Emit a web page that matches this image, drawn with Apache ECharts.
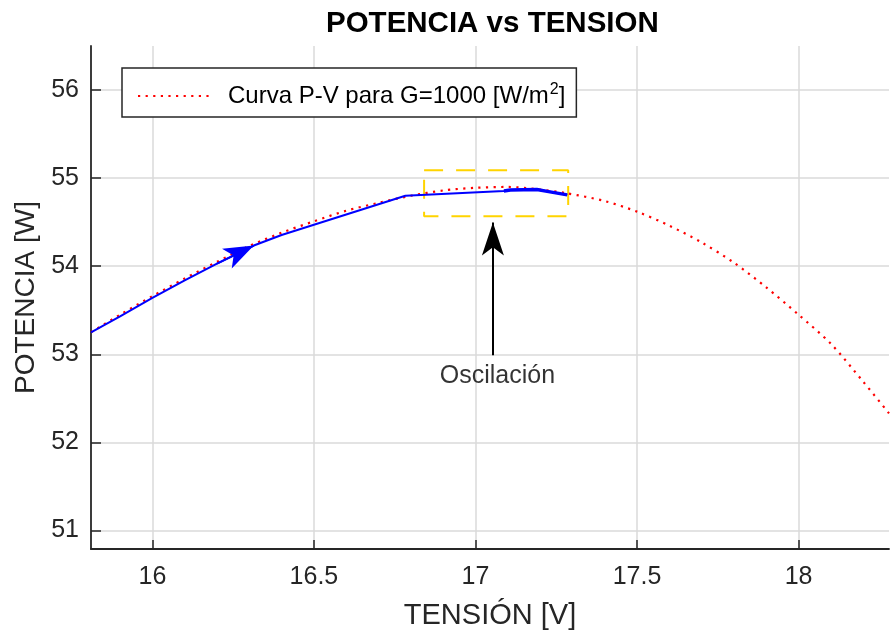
<!DOCTYPE html>
<html><head><meta charset="utf-8">
<script src="https://cdn.jsdelivr.net/npm/echarts@6/dist/echarts.min.js"></script>
<style>html,body{margin:0;padding:0;background:#fff}#c{width:890px;height:637px}</style>
</head><body><div id="c"></div>
<script>
// Curva P-V (red dotted)
const pvV = [15.81, 15.90, 16.00, 16.10, 16.20, 16.30, 16.40, 16.50, 16.60, 16.70, 16.80, 16.90, 17.00, 17.10, 17.20, 17.28, 17.40, 17.50, 17.60, 17.70, 17.80, 17.90, 18.00, 18.10, 18.20, 18.28];
const pvP = [53.25, 53.45, 53.66, 53.86, 54.05, 54.23, 54.38, 54.51, 54.63, 54.72, 54.80, 54.86, 54.89, 54.90, 54.87, 54.83, 54.74, 54.62, 54.46, 54.27, 54.04, 53.76, 53.45, 53.12, 52.69, 52.33];
// MPPT trajectory (blue)
const trV = [15.81, 15.90, 16.00, 16.10, 16.20, 16.314, 16.40, 16.783, 17.088, 17.108, 17.19, 17.222, 17.253, 17.284];
const trP = [53.25, 53.43, 53.64, 53.84, 54.03, 54.235, 54.355, 54.80, 54.855, 54.865, 54.87, 54.85, 54.83, 54.81];
// oscillation portion (thicker blue)
const oscV = [17.088, 17.108, 17.19, 17.222, 17.253, 17.284];
const oscP = [54.855, 54.865, 54.87, 54.85, 54.83, 54.81];
// direction arrow on trajectory: [start, tip]
const dirArrowV = [16.20, 16.314];
const dirArrowP = [54.03, 54.235];
// yellow dashed box
const boxV = [16.841, 17.287];
const boxP = [54.566, 55.09];
// black annotation arrow: [tail, tip]
const annArrowV = 17.054;
const annArrowP = [52.99, 54.495];
const annText = 'Oscilación';
const annTextPos = [17.068, 52.75];
const xTicks = [16, 16.5, 17, 17.5, 18];
const yTicks = [51, 52, 53, 54, 55, 56];
const legendName = 'Curva P-V para G=1000 [W/m2]';

const zip = (a, b) => a.map((v, i) => [v, b[i]]);
const boxData = [[boxV[0], boxP[1]], [boxV[1], boxP[1]], [boxV[1], boxP[0]], [boxV[0], boxP[0]], [boxV[0], boxP[1]]];
const FONT = '"Liberation Sans", Arial, Helvetica, sans-serif';
const TXT = '#262626';

const chart = echarts.init(document.getElementById('c'), null, {renderer: 'canvas'});
chart.setOption({
  animation: false,
  backgroundColor: '#fff',
  textStyle: {fontFamily: FONT},
  title: {
    text: 'POTENCIA vs TENSION', left: 326, top: 9, padding: 0,
    textStyle: {fontFamily: FONT, fontWeight: 'bold', fontSize: 29.5, color: '#000'}
  },
  legend: {
    data: [legendName], left: 122, top: 68, orient: 'vertical',
    backgroundColor: '#fff', borderColor: TXT, borderWidth: 1.5, borderRadius: 0,
    padding: [14, 11, 7, 15], itemWidth: 75, itemHeight: 14,
    itemStyle: {opacity: 0},
    formatter: () => '{a|Curva P-V para G=1000 [W/m}{s|2}{a|]}',
    textStyle: {
      padding: [0, 0, 0, 10],
      rich: {
        a: {fontFamily: FONT, fontSize: 24, color: '#000', lineHeight: 28},
        s: {fontFamily: FONT, fontSize: 16, color: '#000', padding: [0, 0, 12, 1], lineHeight: 28}
      }
    }
  },
  grid: {left: 91, right: 1, top: 46, bottom: 88, containLabel: false},
  xAxis: {
    type: 'value', min: 15.81, max: 18.28,
    name: 'TENSIÓN [V]', nameLocation: 'middle', nameGap: 52,
    nameTextStyle: {fontFamily: FONT, fontSize: 29, color: TXT},
    axisLine: {onZero: false, lineStyle: {color: TXT, width: 1.8}},
    axisTick: {inside: true, length: 9, customValues: xTicks, lineStyle: {color: TXT, width: 1.5}},
    axisLabel: {customValues: xTicks, fontFamily: FONT, fontSize: 25, color: TXT, margin: 16},
    splitLine: {show: true, lineStyle: {color: '#dadada', width: 1.5}}
  },
  yAxis: {
    type: 'value', min: 50.79, max: 56.5,
    name: 'POTENCIA [W]', nameLocation: 'middle', nameGap: 49,
    nameTextStyle: {fontFamily: FONT, fontSize: 28, color: TXT},
    axisLine: {onZero: false, lineStyle: {color: TXT, width: 1.8}},
    axisTick: {inside: true, length: 10, customValues: yTicks, lineStyle: {color: TXT, width: 1.5}},
    axisLabel: {customValues: yTicks, fontFamily: FONT, fontSize: 25, color: TXT, margin: 12},
    splitLine: {show: true, lineStyle: {color: '#dadada', width: 1.5}}
  },
  series: [
    {
      name: legendName, type: 'line', data: zip(pvV, pvP), symbol: 'none', smooth: 0.3,
      lineStyle: {color: '#ff0000', width: 2.2, type: [2.2, 5.4]}, itemStyle: {color: '#ff0000'}, z: 3
    },
    {
      name: 'mppt', type: 'line', data: zip(trV, trP), symbol: 'none',
      lineStyle: {color: '#0000ff', width: 2}, itemStyle: {color: '#0000ff'}, z: 4,
      markLine: {
        silent: true, symbol: ['none', 'arrow'], symbolSize: [16.5, 30],
        lineStyle: {color: '#0000ff', width: 2, type: 'solid'}, label: {show: false},
        data: [[{coord: [dirArrowV[0], dirArrowP[0]]}, {coord: [dirArrowV[1], dirArrowP[1]]}]]
      }
    },
    {
      name: 'osc', type: 'line', data: zip(oscV, oscP), symbol: 'none',
      lineStyle: {color: '#0000ff', width: 3.5}, z: 5
    },
    {
      name: 'box', type: 'line', data: boxData, symbol: 'none',
      lineStyle: {color: '#ffd400', width: 2, type: [19, 13]}, z: 2
    },
    {
      name: 'ann', type: 'scatter', data: [annTextPos], symbolSize: 0, z: 6,
      label: {show: true, position: 'inside', formatter: annText, fontFamily: FONT, fontSize: 25, color: '#000'},
      markLine: {
        silent: true, symbol: ['none', 'arrow'], symbolSize: [16.5, 33],
        lineStyle: {color: '#000', width: 2, type: 'solid'}, label: {show: false},
        data: [[{coord: [annArrowV, annArrowP[0]]}, {coord: [annArrowV, annArrowP[1]]}]]
      }
    }
  ]
});
</script>
</body></html>
